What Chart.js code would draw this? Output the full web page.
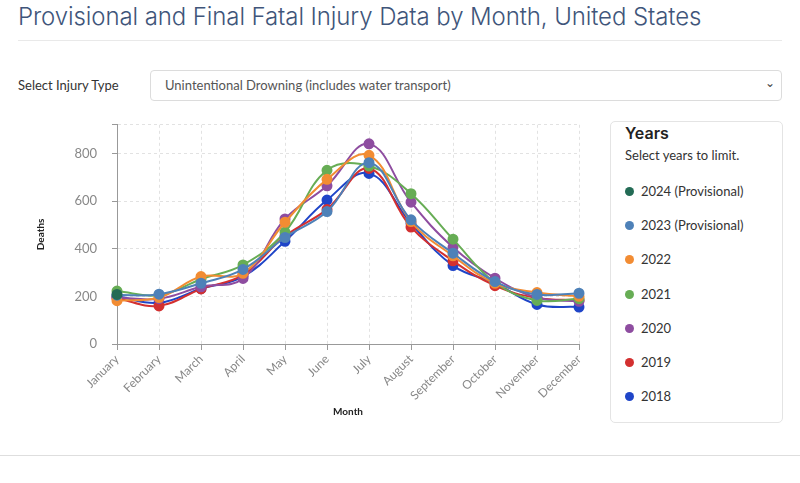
<!DOCTYPE html>
<html>
<head>
<meta charset="utf-8">
<script src="https://cdn.jsdelivr.net/npm/chart.js@4.4.1/dist/chart.umd.min.js"></script>
<style>
  body { margin: 0; background: #fff; font-family: Lato, "Noto Sans", sans-serif; width: 800px; height: 483px; overflow: hidden; position: relative; }
  h1 { position: absolute; left: 18px; top: 2px; margin: 0; font-family: Inter, "Open Sans", sans-serif; font-weight: 300; font-size: 24px; color: #40557a; letter-spacing: -0.1px; }
  .rule { position: absolute; left: 18px; top: 40px; width: 764px; height: 1px; background: #e9e9e9; }
  .lbl { position: absolute; left: 18px; top: 77px; font-size: 13px; color: #333; }
  .sel { position: absolute; left: 150px; top: 70px; width: 632px; height: 31px; border: 1px solid #dcdcdc; border-radius: 4px; box-sizing: border-box; font-size: 13px; color: #555; line-height: 29px; padding-left: 14px; }
  .sel span { position: absolute; right: 6px; top: -3px; font-size: 12px; color: #444; }
  #wrap { position: absolute; left: 31px; top: 102px; }
  .legend { position: absolute; left: 610px; top: 121px; width: 173px; height: 302px; border: 1px solid #e4e4e4; border-radius: 5px; box-sizing: border-box; }
  .legend h3 { margin: 0; position: absolute; left: 14px; top: 1px; font-family: Inter, sans-serif; font-weight: 600; font-size: 16px; color: #222; }
  .legend .sub { position: absolute; left: 14px; top: 25px; font-size: 13px; color: #333; }
  .item { position: absolute; left: 14px; font-size: 13px; color: #333; }
  .item i { display: inline-block; width: 9px; height: 9px; border-radius: 50%; margin-right: 7px; }
  .bottom { position: absolute; left: 0; top: 455px; width: 800px; height: 1px; background: #dedede; }
</style>
</head>
<body>
<h1>Provisional and Final Fatal Injury Data by Month, United States</h1>
<div class="rule"></div>
<div class="lbl">Select Injury Type</div>
<div class="sel">Unintentional Drowning (includes water transport)<span>&#8964;</span></div>
<div id="wrap"><canvas id="myChart" width="569" height="320"></canvas></div>
<div class="legend" id="legend">
  <h3>Years</h3>
  <div class="sub">Select years to limit.</div>
</div>
<div class="bottom"></div>
<script>
var months = ['January', 'February', 'March', 'April', 'May', 'June', 'July', 'August', 'September', 'October', 'November', 'December'];
var years = ['2024 (Provisional)', '2023 (Provisional)', '2022', '2021', '2020', '2019', '2018'];
var colors = ['#236b55', '#4e81b8', '#f28c33', '#67ad55', '#8e4da0', '#d33030', '#1f45c8'];

var d2024 = [208, null, null, null, null, null, null, null, null, null, null, null];
var d2023 = [205, 209, 255, 313, 447, 556, 761, 521, 381, 262, 208, 213];
var d2022 = [182, 195, 283, 297, 511, 691, 792, 514, 370, 255, 216, 200];
var d2021 = [222, 205, 272, 332, 470, 729, 747, 631, 440, 258, 183, 190];
var d2020 = [195, 190, 240, 275, 525, 664, 840, 595, 406, 276, 195, 179];
var d2019 = [192, 160, 231, 290, 453, 565, 737, 491, 349, 245, 193, 184];
var d2018 = [200, 173, 232, 283, 431, 604, 716, 507, 329, 255, 166, 155];
var series = [d2024, d2023, d2022, d2021, d2020, d2019, d2018];

var yTicks = [0, 200, 400, 600, 800];

var datasets = [];
for (var i = 0; i < years.length; i++) {
  datasets.push({
    label: years[i],
    data: series[i],
    borderColor: colors[i],
    backgroundColor: colors[i],
    pointBackgroundColor: colors[i],
    pointBorderColor: colors[i],
    pointRadius: 4.5,
    borderWidth: 2,
    tension: 0.4,
    fill: false
  });
}

// legend box built from the same arrays
var legend = document.getElementById('legend');
for (var j = 0; j < years.length; j++) {
  var it = document.createElement('div');
  it.className = 'item';
  it.style.top = (61 + j * 34.2) + 'px';
  it.innerHTML = '<i style="background:' + colors[j] + '"></i>' + years[j];
  legend.appendChild(it);
}

var ctx = document.getElementById('myChart').getContext('2d');
var myChart = new Chart(ctx, {
  type: 'line',
  data: { labels: months, datasets: datasets },
  options: {
    responsive: false,
    animation: false,
    layout: { padding: { top: 6, right: 21, left: 0, bottom: 0 } },
    plugins: { legend: { display: false }, tooltip: { enabled: false } },
    scales: {
      x: {
        grid: { color: '#e2e2e2', tickLength: 6, drawTicks: true, tickColor: '#999' },
        border: { color: '#999', dash: [3, 3] },
        ticks: { color: '#888', font: { family: 'Lato', size: 12 }, minRotation: 45, maxRotation: 45, padding: 2 },
        title: { display: true, text: 'Month', color: '#222', font: { family: 'Lato', size: 10, weight: 'bold' } },
        afterFit: function (s) { s.height = 78; }
      },
      y: {
        min: 0,
        max: 920,
        afterBuildTicks: function (s) {
          s.ticks = yTicks.map(function (v) { return { value: v }; }).concat([{ value: 920 }]);
        },
        grid: { color: '#e2e2e2', tickLength: 5, tickColor: '#999' },
        border: { color: '#999', dash: [3, 3] },
        ticks: {
          color: '#888', font: { family: 'Lato', size: 13 }, padding: 15,
          callback: function (v) { return yTicks.indexOf(v) >= 0 ? v : ''; }
        },
        title: { display: true, text: 'Deaths', color: '#222', font: { family: 'Lato', size: 10, weight: 'bold' } },
        afterFit: function (s) { s.width = 86; }
      }
    }
  }
});
</script>
</body>
</html>
